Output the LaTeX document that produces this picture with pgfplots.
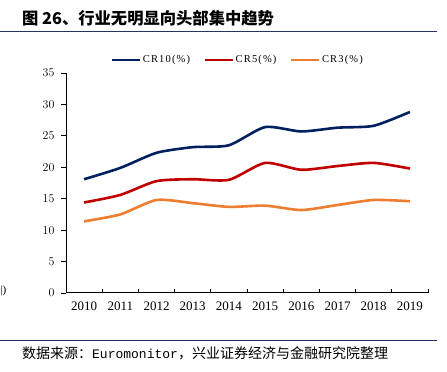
\documentclass[border=0pt]{standalone}
\usepackage{pgfplots}
\pgfplotsset{compat=1.18}
\usepackage{fontspec}
\setmainfont{Liberation Serif}
\newfontfamily\cjk{Noto Sans CJK SC}
\newfontfamily\legfont{Liberation Serif}[LetterSpace=11]
\newfontfamily\monofont{Liberation Mono}
\definecolor{navy}{RGB}{0,32,96}
\definecolor{cred}{RGB}{192,0,0}
\definecolor{corange}{RGB}{237,125,49}
\definecolor{rulec}{RGB}{40,50,100}
\begin{document}
\begin{tikzpicture}[x=1pt,y=1pt]
\path[use as bounding box] (0,0) rectangle (447,372);
\node[anchor=west,inner xsep=0pt,font=\cjk\bfseries\fontsize{16.3}{18}\selectfont] at (22,354) {图 26、行业无明显向头部集中趋势};
\draw[rulec,line width=1pt] (0,340.5) -- (437,340.5);
\draw[rulec,line width=1pt] (0,31.5) -- (437,31.5);
\node[anchor=west,inner xsep=0pt,font=\cjk\fontsize{14}{15}\selectfont] at (22,19) {数据来源：{\monofont\fontsize{13}{14}\selectfont Euromonitor}，兴业证券经济与金融研究院整理};
\node[anchor=west,font=\fontsize{11}{12}\selectfont] at (-3,81) {|)};
\coordinate (O) at (66pt,79pt);
\begin{axis}[
  at={(O)}, anchor=south west,
  scale only axis, width=362pt, height=220pt,
  xmin=-0.5, xmax=9.5, ymin=0, ymax=35,
  axis x line*=bottom, axis y line*=left,
  axis line style={black, line width=1pt},
  xtick={0,...,9},
  xticklabels={2010,2011,2012,2013,2014,2015,2016,2017,2018,2019},
  minor xtick={-0.5,0.5,...,9.5},
  ytick={0,5,...,35},
  major tick length=0pt,
  minor tick length=4pt,
  every minor tick/.style={black, line width=0.8pt},
  extra y ticks={0,5,...,35}, extra y tick labels={},
  extra y tick style={major tick length=5pt, tick style={black, line width=0.8pt}, tick align=outside},
  tick align=inside,
  tick label style={font=\fontsize{13}{14}\selectfont},
  yticklabel style={xshift=-8pt},
  xticklabel style={yshift=-5pt},
  legend columns=3,
  legend style={at={(0.474,1.059)}, anchor=center, draw=none, fill=none,
    font=\legfont\fontsize{10.5}{12}\selectfont,
    nodes={inner xsep=1.5pt},
    /tikz/every even column/.append style={column sep=12pt}},
  legend image code/.code={\draw[#1] (0pt,0pt) -- (28pt,0pt);},
  clip=false,
]
\addplot[navy, line width=2.6pt, smooth, tension=0.4] coordinates {
(0,18.1) (1,19.9) (2,22.3) (3,23.2) (4,23.5) (5,26.4) (6,25.7) (7,26.3) (8,26.6) (9,28.8)};
\addlegendentry{CR10(\%)}
\addplot[cred, line width=2.6pt, smooth, tension=0.4] coordinates {
(0,14.4) (1,15.6) (2,17.8) (3,18.1) (4,18.0) (5,20.7) (6,19.6) (7,20.2) (8,20.7) (9,19.8)};
\addlegendentry{CR5(\%)}
\addplot[corange, line width=2.6pt, smooth, tension=0.4] coordinates {
(0,11.4) (1,12.5) (2,14.8) (3,14.3) (4,13.7) (5,13.9) (6,13.2) (7,14.0) (8,14.8) (9,14.6)};
\addlegendentry{CR3(\%)}
\end{axis}
\end{tikzpicture}
\end{document}
